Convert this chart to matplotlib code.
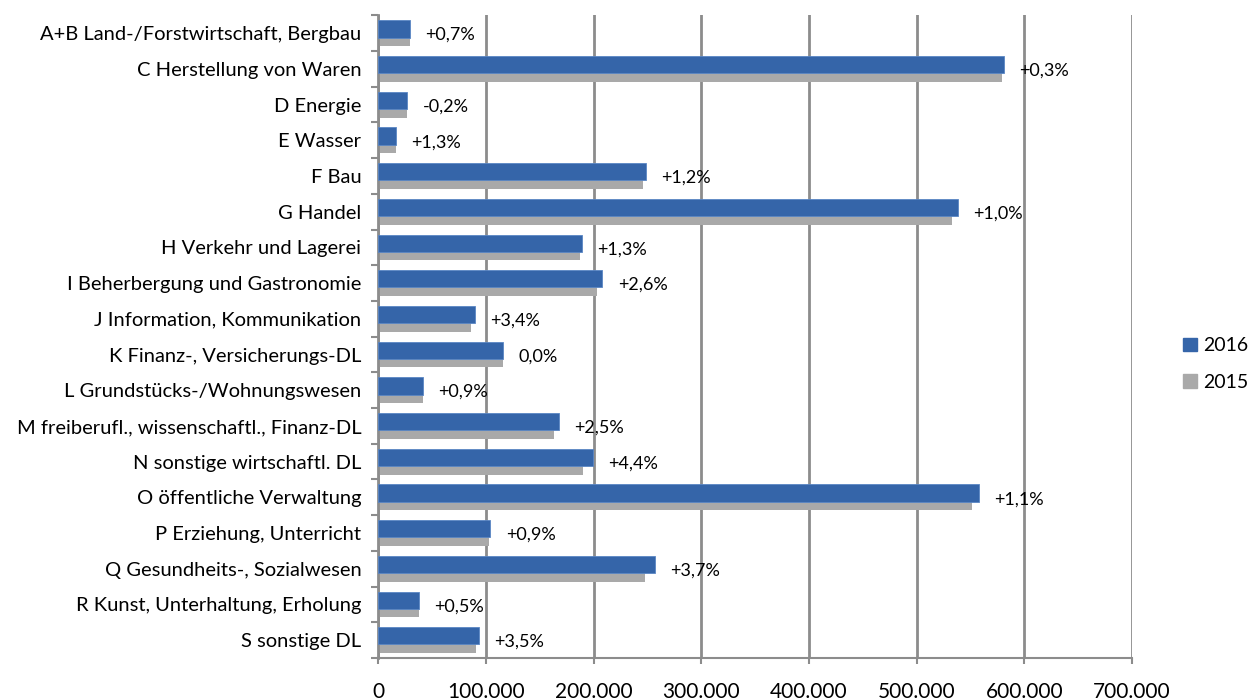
import numpy as np
import matplotlib.pyplot as plt
from matplotlib.patches import Patch

plt.rcParams['font.family'] = ['Lato', 'DejaVu Sans']

categories = [
    'A+B Land-/Forstwirtschaft, Bergbau',
    'C Herstellung von Waren',
    'D Energie',
    'E Wasser',
    'F Bau',
    'G Handel',
    'H Verkehr und Lagerei',
    'I Beherbergung und Gastronomie',
    'J Information, Kommunikation',
    'K Finanz-, Versicherungs-DL',
    'L Grundstücks-/Wohnungswesen',
    'M freiberufl., wissenschaftl., Finanz-DL',
    'N sonstige wirtschaftl. DL',
    'O öffentliche Verwaltung',
    'P Erziehung, Unterricht',
    'Q Gesundheits-, Sozialwesen',
    'R Kunst, Unterhaltung, Erholung',
    'S sonstige DL',
]
v2016 = [29600, 581500, 27200, 16400, 248800, 538500, 189500, 208300, 89500,
         116400, 41700, 167600, 199100, 558000, 104300, 257400, 37700, 93900]
v2015 = [29400, 579600, 27250, 16200, 245800, 533200, 187000, 203000, 86550,
         116400, 41300, 163500, 190700, 551900, 103400, 248200, 37500, 90700]
changes = ['+0,7%', '+0,3%', '-0,2%', '+1,3%', '+1,2%', '+1,0%', '+1,3%', '+2,6%',
           '+3,4%', '0,0%', '+0,9%', '+2,5%', '+4,4%', '+1,1%', '+0,9%', '+3,7%',
           '+0,5%', '+3,5%']
xticks = [0, 100000, 200000, 300000, 400000, 500000, 600000, 700000]

blue = '#3565a9'
grey = '#a9a9a9'
gridc = '#8c8c8c'

fig = plt.figure(figsize=(12.48, 7.0), dpi=100)
ax = fig.add_axes([0.303, 0.06, 0.604, 0.918])

y = np.arange(len(categories))
h = 0.48
ax.barh(y + 0.12, v2015, height=h, color=grey, zorder=2)
ax.barh(y - 0.12, v2016, height=h, color=blue, edgecolor='#5a86c4',
        linewidth=0.6, zorder=3)

for i in range(len(categories)):
    ax.annotate(changes[i], xy=(max(v2016[i], v2015[i]), y[i] + 0.05),
                xytext=(11, 0), textcoords='offset points',
                va='center', ha='left', fontsize=13, color='black')

ax.set_xlim(0, 700000)
ax.set_ylim(len(categories) - 0.5, -0.5)
ax.set_xticks(xticks)
ax.set_xticklabels(['{:,}'.format(t).replace(',', '.') for t in xticks], fontsize=15)
ax.set_yticks(y)
ax.set_yticklabels(categories, fontsize=14.5)
ax.set_yticks(np.arange(len(categories) + 1) - 0.5, minor=True)
ax.tick_params(axis='y', which='major', length=0, pad=12)
ax.tick_params(axis='y', which='minor', length=5, color=gridc, width=1.5, direction='out')
ax.tick_params(axis='x', length=4, color=gridc, width=1.5, pad=13)

ax.grid(axis='x', color=gridc, linewidth=2, zorder=0)
ax.set_axisbelow(True)
for s in ['top', 'right']:
    ax.spines[s].set_visible(False)
ax.spines['left'].set_color(gridc)
ax.spines['left'].set_linewidth(2)
ax.spines['bottom'].set_color(gridc)
ax.spines['bottom'].set_linewidth(1.5)

handles = [Patch(color=blue, label='2016'), Patch(color=grey, label='2015')]
fig.legend(handles=handles, loc='center left', bbox_to_anchor=(0.942, 0.48),
           frameon=False, fontsize=14, handlelength=0.7, handleheight=0.7,
           handletextpad=0.3, labelspacing=1.0, borderaxespad=0)

fig.savefig('out.png', dpi=100)
